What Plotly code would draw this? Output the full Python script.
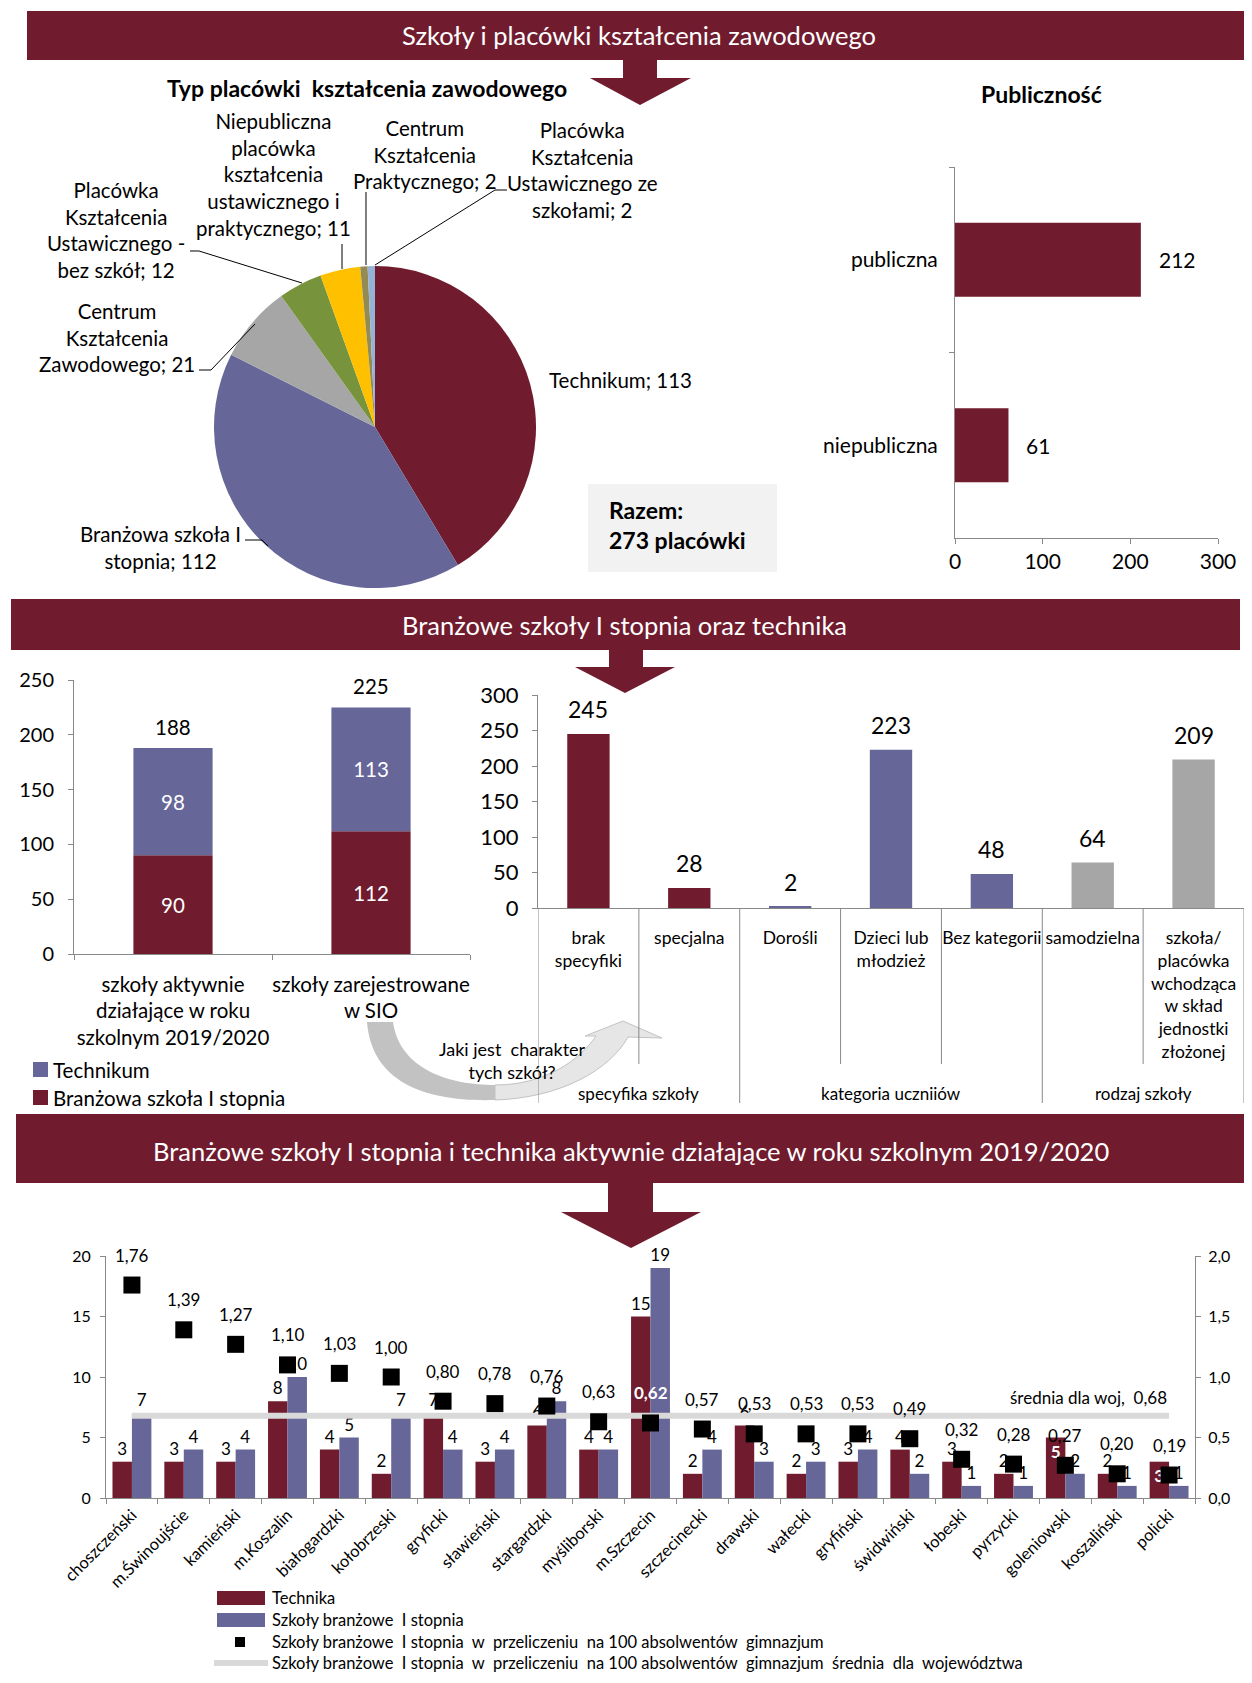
import plotly.graph_objects as go

# współrzędne w pikselach obrazu 1252x1683; strona HTML ma margines 8 px
W, H = 1252, 1683
OFF = 8
FW, FH = W - 2 * OFF, H - 2 * OFF

MAROON = '#701C2E'
PURPLE = '#666699'
GREY = '#A6A6A6'
AXIS = '#898989'
FONT = 'Lato, "Open Sans", sans-serif'

# --- DANE ---
pie_labels = ['Technikum', 'Branżowa szkoła I<br>stopnia', 'Centrum<br>Kształcenia<br>Zawodowego',
              'Placówka<br>Kształcenia<br>Ustawicznego -<br>bez szkół',
              'Niepubliczna<br>placówka<br>kształcenia<br>ustawicznego i<br>praktycznego',
              'Centrum<br>Kształcenia<br>Praktycznego',
              'Placówka<br>Kształcenia<br>Ustawicznego ze<br>szkołami']
pie_values = [113, 112, 21, 12, 11, 2, 2]
pie_total = 273

pub_labels = ['publiczna', 'niepubliczna']
pub_values = [212, 61]

stack_cats = ['szkoły aktywnie<br>działające w roku<br>szkolnym 2019/2020', 'szkoły zarejestrowane<br>w SIO']
stack_branzowa = [90, 112]
stack_technikum = [98, 113]

mid_cats = ['brak<br>specyfiki', 'specjalna', 'Dorośli', 'Dzieci lub<br>młodzież', 'Bez kategorii',
            'samodzielna', 'szkoła/<br>placówka<br>wchodząca<br>w skład<br>jednostki<br>złożonej']
mid_values = [245, 28, 2, 223, 48, 64, 209]
mid_group_of = [0, 0, 1, 1, 1, 2, 2]
mid_groups = ['specyfika szkoły', 'kategoria uczniiów', 'rodzaj szkoły']

bot_cats = ['choszczeński', 'm.Świnoujście', 'kamieński', 'm.Koszalin', 'białogardzki', 'kołobrzeski',
            'gryficki', 'sławieński', 'stargardzki', 'myśliborski', 'm.Szczecin', 'szczecinecki',
            'drawski', 'wałecki', 'gryfiński', 'świdwiński', 'łobeski', 'pyrzycki', 'goleniowski',
            'koszaliński', 'policki']
bot_technika = [3, 3, 3, 8, 4, 2, 7, 3, 6, 4, 15, 2, 6, 2, 3, 4, 3, 2, 5, 2, 3]
bot_branzowe = [7, 4, 4, 10, 5, 7, 4, 4, 8, 4, 19, 4, 3, 3, 4, 2, 1, 1, 2, 1, 1]
bot_rate = [1.76, 1.39, 1.27, 1.10, 1.03, 1.00, 0.80, 0.78, 0.76, 0.63, 0.62, 0.57, 0.53, 0.53,
            0.53, 0.49, 0.32, 0.28, 0.27, 0.20, 0.19]
woj_avg = 0.68

name_tech = 'Technika'
name_bs = 'Szkoły branżowe  I stopnia'
name_rate = 'Szkoły branżowe  I stopnia  w  przeliczeniu  na 100 absolwentów  gimnazjum'
name_avg = 'Szkoły branżowe  I stopnia  w  przeliczeniu  na 100 absolwentów  gimnazjum  średnia  dla  województwa'


def px(x):
    return (x - OFF) / FW


def py(y):
    return 1 - (y - OFF) / FH


def dom(a, b):
    return [max(0.0, min(1.0, a)), max(0.0, min(1.0, b))]


def path(*cmds):
    out = []
    for c in cmds:
        op, pts = c[0], c[1:]
        coords = ' '.join(f'{px(pts[i]):.5f},{py(pts[i + 1]):.5f}' for i in range(0, len(pts), 2))
        out.append(op + coords)
    return ' '.join(out)


def poly(pts, closed=True):
    cmds = [('M',) + pts[0]] + [('L',) + p for p in pts[1:]]
    s = path(*cmds)
    return s + ' Z' if closed else s


shapes = []
annotations = []


def note(x, y, text, size=19, xanchor='center', yanchor='middle', color='black', **kw):
    d = dict(x=px(x), y=py(y), xref='paper', yref='paper', text=text, showarrow=False,
             xanchor=xanchor, yanchor=yanchor, font=dict(size=size, color=color, family=FONT))
    d.update(kw)
    annotations.append(d)


# --- BANERY I STRZAŁKI ---
banners = [((27, 11, 1245, 60), 'Szkoły i placówki kształcenia zawodowego', (639, 35)),
           ((11, 599, 1240, 650), 'Branżowe szkoły I stopnia oraz technika', (624, 625)),
           ((16, 1114, 1245, 1183), 'Branżowe szkoły I stopnia i technika aktywnie działające w roku szkolnym 2019/2020', (631, 1151))]
for (x0, y0, x1, y1), title, (tx, ty) in banners:
    shapes.append(dict(type='rect', xref='paper', yref='paper', x0=px(x0), x1=px(x1), y0=py(y1), y1=py(y0),
                       fillcolor=MAROON, line=dict(width=0)))
    note(tx, ty, title, size=25.5, color='white')

arrows = [(623, 657, 60, 78, 590, 691, 640, 105),
          (609, 643, 649, 667, 575, 675, 625, 693),
          (608, 653, 1182, 1212, 561, 701, 631, 1248)]
for s0, s1, top, hy, h0, h1, tx, ty in arrows:
    shapes.append(dict(type='path', xref='paper', yref='paper', fillcolor=MAROON, line=dict(width=0),
                       path=poly([(s0, top), (s1, top), (s1, hy), (h1, hy), (tx, ty), (h0, hy), (s0, hy)])))

fig = go.Figure()

# --- WYKRES KOŁOWY ---
fig.add_trace(go.Pie(
    labels=pie_labels, values=pie_values, sort=False, direction='clockwise', rotation=0,
    marker=dict(colors=[MAROON, PURPLE, GREY, '#77933C', '#FFC000', '#948A54', '#95B3D7'],
                line=dict(width=0)),
    textinfo='none', showlegend=False,
    domain=dict(x=dom(px(214), px(536)), y=dom(py(588), py(266)))))

note(367, 88, '<b>Typ placówki  kształcenia zawodowego</b>', size=23)
pie_pos = [(547, 380, 'left'), (160, 548, 'center'), (117, 338, 'center'), (116, 230, 'center'),
           (273, 175, 'center'), (425, 154, 'center'), (582, 170, 'center')]
for lab, val, (x, y, anc) in zip(pie_labels, pie_values, pie_pos):
    note(x, y, f'{lab}; {val}', size=20.5, xanchor=anc)

leaders = [[(245, 540), (262, 540), (268, 546)],
           [(199, 370), (211, 370), (255, 324)],
           [(190, 251), (199, 251), (302, 283)],
           [(342, 244), (342, 269)],
           [(366, 192), (366, 265)],
           [(507, 190), (495, 190), (375, 265)]]
for pts in leaders:
    shapes.append(dict(type='path', xref='paper', yref='paper', path=poly(pts, closed=False),
                       line=dict(color='black', width=1)))

shapes.append(dict(type='rect', xref='paper', yref='paper', x0=px(588), x1=px(777), y0=py(572), y1=py(484),
                   fillcolor='#F2F2F2', line=dict(width=0)))
note(607, 525, f'<b>Razem:<br>{pie_total} placówki</b>', size=23, xanchor='left', align='left')

# --- PUBLICZNOŚĆ ---
fig.add_trace(go.Bar(x=pub_values, y=pub_labels, orientation='h', marker_color=MAROON, width=0.4,
                     xaxis='x', yaxis='y', showlegend=False))
note(1041, 94, '<b>Publiczność</b>', size=23)
for v, lab in zip(pub_values, pub_labels):
    annotations.append(dict(x=v, y=lab, xref='x', yref='y', text=str(v), showarrow=False, xanchor='left',
                            xshift=16, font=dict(size=21, color='black', family=FONT)))

# --- SKUMULOWANY ---
fig.add_trace(go.Bar(x=stack_cats, y=stack_branzowa, marker_color=MAROON, width=0.4, offsetgroup='s',
                     text=stack_branzowa, textposition='inside', insidetextanchor='middle',
                     textfont=dict(color='white', size=20.5), xaxis='x2', yaxis='y2', showlegend=False))
fig.add_trace(go.Bar(x=stack_cats, y=stack_technikum, base=stack_branzowa, marker_color=PURPLE, width=0.4,
                     offsetgroup='s', text=stack_technikum, textposition='inside', insidetextanchor='middle',
                     textfont=dict(color='white', size=20.5), xaxis='x2', yaxis='y2', showlegend=False))
for c, a, b in zip(stack_cats, stack_branzowa, stack_technikum):
    annotations.append(dict(x=c, y=a + b, xref='x2', yref='y2', text=str(a + b), showarrow=False,
                            yshift=21, font=dict(size=20.5, color='black', family=FONT)))

shapes.append(dict(type='rect', xref='paper', yref='paper', x0=px(33), x1=px(48), y0=py(1077), y1=py(1062),
                   fillcolor=PURPLE, line=dict(width=0)))
shapes.append(dict(type='rect', xref='paper', yref='paper', x0=px(33), x1=px(48), y0=py(1105), y1=py(1090),
                   fillcolor=MAROON, line=dict(width=0)))
note(51, 1070, 'Technikum', size=20.5, xanchor='left')
note(51, 1098, 'Branżowa szkoła I stopnia', size=20.5, xanchor='left')

# zakrzywiona strzałka (ciemniejsza z lewej, jaśniejsza przy grocie)
shapes.append(dict(type='path', xref='paper', yref='paper', fillcolor='#C2C2C2', line=dict(width=0),
                   path=path(('M', 367, 1022), ('C', 372, 1085, 430, 1102, 495, 1100), ('L', 495, 1085),
                             ('C', 450, 1085, 400, 1070, 393, 1022)) + ' Z'))
shapes.append(dict(type='path', xref='paper', yref='paper', fillcolor='#E6E6E6',
                   line=dict(color='#C2C2C2', width=1),
                   path=path(('M', 495, 1100), ('C', 560, 1098, 610, 1070, 628, 1037), ('L', 662, 1038),
                             ('L', 623, 1021), ('L', 585, 1036), ('L', 596, 1036),
                             ('C', 580, 1060, 545, 1085, 495, 1085)) + ' Z'))
note(512, 1060, 'Jaki jest  charakter<br>tych szkół?', size=18)

# --- CHARAKTER SZKÓŁ ---
mid_palette = [MAROON, PURPLE, GREY]
fig.add_trace(go.Bar(x=mid_cats, y=mid_values, width=0.42,
                     marker_color=[mid_palette[g] for g in mid_group_of],
                     xaxis='x3', yaxis='y3', showlegend=False))
for c, v in zip(mid_cats, mid_values):
    annotations.append(dict(x=c, y=v, xref='x3', yref='y3', text=str(v), showarrow=False, yshift=25,
                            font=dict(size=23, color='black', family=FONT)))
for i in range(len(mid_cats) + 1):
    long_line = i == 0 or i == len(mid_cats) or mid_group_of[i] != mid_group_of[i - 1]
    shapes.append(dict(type='line', xref='x3', yref='paper', x0=i - 0.5, x1=i - 0.5, y0=py(908),
                       y1=py(1103 if long_line else 1064), line=dict(color=AXIS, width=1)))
for g, gname in enumerate(mid_groups):
    idx = [i for i, k in enumerate(mid_group_of) if k == g]
    annotations.append(dict(x=sum(idx) / len(idx), y=py(1093), xref='x3', yref='paper', text=gname,
                            showarrow=False, font=dict(size=17, color='black', family=FONT)))

# --- POWIATY ---
tech_white = {18, 20}
rate_white = {10}
fig.add_trace(go.Bar(x=bot_cats, y=bot_technika, name=name_tech, marker_color=MAROON,
                     text=[f'<b>{v}</b>' if i in tech_white else str(v) for i, v in enumerate(bot_technika)],
                     textposition=['inside' if i in tech_white else 'outside' for i in range(len(bot_cats))],
                     insidetextanchor='end', textangle=0, constraintext='none', cliponaxis=False,
                     textfont=dict(size=17, color=['white' if i in tech_white else 'black'
                                                   for i in range(len(bot_cats))]),
                     xaxis='x4', yaxis='y4', showlegend=False))
fig.add_trace(go.Bar(x=bot_cats, y=bot_branzowe, name=name_bs, marker_color=PURPLE,
                     text=bot_branzowe, textposition='outside', textangle=0, constraintext='none',
                     cliponaxis=False, textfont=dict(size=17, color='black'),
                     xaxis='x4', yaxis='y4', showlegend=False))
fig.add_trace(go.Scatter(x=bot_cats, y=[woj_avg] * len(bot_cats), name=name_avg, mode='lines',
                         line=dict(color='#D9D9D9', width=6), xaxis='x4', yaxis='y5', showlegend=False))
fig.add_trace(go.Scatter(x=bot_cats, y=bot_rate, name=name_rate, mode='markers',
                         marker=dict(symbol='square', size=17, color='black'), cliponaxis=False,
                         xaxis='x4', yaxis='y5', showlegend=False))
for i, (c, v) in enumerate(zip(bot_cats, bot_rate)):
    txt = f'{v:.2f}'.replace('.', ',')
    annotations.append(dict(x=c, y=v, xref='x4', yref='y5', showarrow=False, yshift=30,
                            text=f'<b>{txt}</b>' if i in rate_white else txt,
                            font=dict(size=17, color='white' if i in rate_white else 'black', family=FONT)))
annotations.append(dict(x=bot_cats[-1], y=woj_avg, xref='x4', yref='y5', showarrow=False, xanchor='right',
                        yshift=18, text=f'średnia dla woj.  {woj_avg:.2f}'.replace('.', ','),
                        font=dict(size=17, color='black', family=FONT)))

# legenda dolna
leg_y = [1598, 1620, 1642, 1663]
shapes.append(dict(type='rect', xref='paper', yref='paper', x0=px(217), x1=px(265), y0=py(leg_y[0] + 7),
                   y1=py(leg_y[0] - 7), fillcolor=MAROON, line=dict(width=0)))
shapes.append(dict(type='rect', xref='paper', yref='paper', x0=px(217), x1=px(265), y0=py(leg_y[1] + 7),
                   y1=py(leg_y[1] - 7), fillcolor=PURPLE, line=dict(width=0)))
shapes.append(dict(type='rect', xref='paper', yref='paper', x0=px(235), x1=px(245), y0=py(leg_y[2] + 5),
                   y1=py(leg_y[2] - 5), fillcolor='black', line=dict(width=0)))
shapes.append(dict(type='line', xref='paper', yref='paper', x0=px(214), x1=px(268), y0=py(leg_y[3]),
                   y1=py(leg_y[3]), line=dict(color='#D9D9D9', width=6)))
for name, y in zip([name_tech, name_bs, name_rate, name_avg], leg_y):
    note(270, y, name, size=16.5, xanchor='left')

# --- OSIE ---
ax = dict(showline=True, linecolor=AXIS, linewidth=1, showgrid=False, zeroline=False, automargin=False,
          ticks='outside', ticklen=5, tickcolor=AXIS, tickfont=dict(size=20, color='black', family=FONT))

fig.update_layout(
    template='none',
    width=FW, height=FH, margin=dict(l=0, r=0, t=0, b=0, pad=0), autosize=False,
    paper_bgcolor='white', plot_bgcolor='rgba(0,0,0,0)',
    font=dict(family=FONT, color='black'),
    separators=', ', barmode='group', bargap=0.25, bargroupgap=0, showlegend=False,
    xaxis=dict(ax, domain=dom(px(955), px(1218)), range=[0, 300], dtick=100, anchor='y',
               tickfont=dict(size=21, color='black', family=FONT)),
    yaxis=dict(ax, domain=dom(py(538), py(167)), autorange='reversed', tickson='boundaries', anchor='x',
               ticklabelstandoff=12, tickfont=dict(size=21, color='black', family=FONT)),
    xaxis2=dict(ax, domain=dom(px(74), px(470)), range=[-0.5, len(stack_cats) - 0.5], tickson='boundaries',
                tickangle=0, anchor='y2', ticklabelstandoff=12,
                tickfont=dict(size=20.5, color='black', family=FONT)),
    yaxis2=dict(ax, domain=dom(py(954), py(680)), range=[0, 250], dtick=50, anchor='x2', ticklabelstandoff=10),
    xaxis3=dict(ax, domain=dom(px(538), px(1244)), range=[-0.5, len(mid_cats) - 0.5], ticks='', tickangle=0,
                anchor='y3', ticklabelstandoff=14, tickfont=dict(size=17.5, color='black', family=FONT)),
    yaxis3=dict(ax, domain=dom(py(908), py(695)), range=[0, 300], dtick=50, anchor='x3', ticklabelstandoff=9,
                tickfont=dict(size=22, color='black', family=FONT)),
    xaxis4=dict(ax, domain=dom(px(106), px(1195)), range=[-0.5, len(bot_cats) - 0.5], tickson='boundaries',
                tickangle=-45, anchor='y4', tickfont=dict(size=16.5, color='black', family=FONT)),
    yaxis4=dict(ax, domain=dom(py(1498), py(1256)), range=[0, 20], dtick=5, anchor='x4', ticklabelstandoff=6,
                tickfont=dict(size=16, color='black', family=FONT)),
    yaxis5=dict(ax, overlaying='y4', side='right', anchor='x4', range=[0, 2], dtick=0.5, tickformat='.1f',
                ticklabelstandoff=4, tickfont=dict(size=16, color='black', family=FONT)),
    shapes=shapes, annotations=annotations,
)

fig.write_html('out.html')
